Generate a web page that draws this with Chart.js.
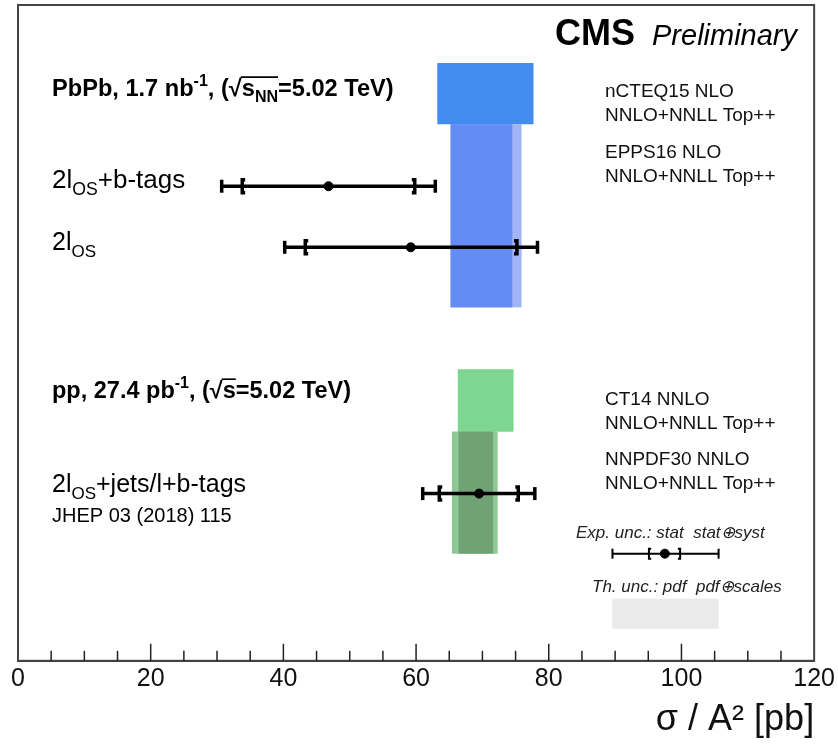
<!DOCTYPE html>
<html>
<head>
<meta charset="utf-8">
<script src="https://cdn.jsdelivr.net/npm/chart.js@4.4.1/dist/chart.umd.min.js"></script>
<style>
  html, body { margin: 0; padding: 0; background: #ffffff; }
</style>
</head>
<body>
<canvas id="xsec-chart" width="838" height="744"></canvas>
<script>
const FONT = "'Liberation Sans', Arial, Helvetica, sans-serif";

// x axis
const xTicks = [0, 20, 40, 60, 80, 100, 120];
const xTitle = "σ / A² [pb]";

// theory bands: inner = pdf, outer = pdf+scales (y in row units)
const theoryNames = ["nCTEQ15 NLO", "EPPS16 NLO", "CT14 NNLO", "NNPDF30 NNLO"];
const theoryCalc = "NNLO+NNLL Top++";
const pdfLow = [63.3, 65.2, 66.3, 66.4];
const pdfHigh = [77.6, 74.5, 74.6, 71.6];
const totLow = [63.2, 65.2, 66.3, 65.4];
const totHigh = [77.7, 75.9, 74.7, 72.3];
const bandTop = [11.94, 10.72, 5.82, 4.58];
const bandBottom = [10.72, 7.06, 4.58, 2.14];

// measurements
const measNames = ["2l_{OS}+b-tags", "2l_{OS}", "2l_{OS}+jets/l+b-tags"];
const measValue = [46.8, 59.2, 69.5];
const statLow = [33.8, 43.3, 63.5];
const statHigh = [59.8, 75.2, 75.4];
const totalLow = [30.7, 40.2, 61.0];
const totalHigh = [62.9, 78.3, 77.9];
const measRow = [9.48, 8.26, 3.34];

// legend samples: [totalLow, statLow, value, statHigh, totalHigh]
const expSample = [89.6, 95.1, 97.5, 99.8, 105.6];
const expSampleRow = 2.14;
const thSample = [89.6, 105.6];
const thSampleRows = [1.24, 0.64];

const pdfColors = ["rgb(66,140,240)", "rgb(100,140,245)", "rgb(125,215,145)", "rgb(112,162,118)"];
const totColors = ["rgb(66,140,240)", "rgb(160,180,246)", "rgb(125,215,145)", "rgb(142,200,148)"];

// tiny ROOT-latex-ish parser: _{..} ^{..} #sqrt{..}
const parseLatex = (str) => {
  const parts = [];
  const stack = [];
  let buf = "";
  const mode = () => ({
    sub: stack.includes("_"),
    sup: stack.includes("^"),
    over: stack.includes("#"),
  });
  const flush = () => {
    if (buf) {
      parts.push({ t: buf, ...mode() });
      buf = "";
    }
  };
  for (let i = 0; i < str.length; i++) {
    if (str.startsWith("_{", i) || str.startsWith("^{", i)) {
      flush();
      stack.push(str[i]);
      i++;
    } else if (str.startsWith("#sqrt{", i)) {
      flush();
      parts.push({ t: "√", ...mode(), root: true });
      stack.push("#");
      i += 5;
    } else if (str[i] === "}") {
      flush();
      stack.pop();
    } else {
      buf += str[i];
    }
  }
  flush();
  return parts;
};

const drawRich = (ctx, text, x, y, size, style) => {
  let cx = x;
  let overFrom = null;
  let overTo = null;
  parseLatex(text).forEach((p) => {
    const s = p.sub || p.sup ? size * 0.68 : size;
    ctx.font = `${style} ${s}px ${FONT}`;
    const dy = p.sub ? size * 0.27 : p.sup ? -size * 0.42 : 0;
    ctx.fillText(p.t, cx, y + dy);
    const w = ctx.measureText(p.t).width;
    if (p.over) {
      if (overFrom === null) overFrom = cx;
      overTo = cx + w;
    }
    cx += w;
  });
  if (overFrom !== null) {
    ctx.beginPath();
    ctx.lineWidth = size * 0.07;
    ctx.moveTo(overFrom - 1, y - size * 0.8);
    ctx.lineTo(overTo, y - size * 0.8);
    ctx.stroke();
  }
};

const line = (ctx, x1, y1, x2, y2) => {
  ctx.beginPath();
  ctx.moveTo(x1, y1);
  ctx.lineTo(x2, y2);
  ctx.stroke();
};

const drawErrorBar = (ctx, xs, py, tLo, sLo, sHi, tHi, w, cap) => {
  const a = xs.getPixelForValue(tLo);
  const b = xs.getPixelForValue(sLo);
  const c = xs.getPixelForValue(sHi);
  const d = xs.getPixelForValue(tHi);
  ctx.strokeStyle = "#000";
  ctx.lineWidth = w;
  line(ctx, a, py, d, py);
  // outer end caps
  line(ctx, a, py - cap, a, py + cap);
  line(ctx, d, py - cap, d, py + cap);
  // stat brackets [ ]
  const s = cap * 0.45;
  ctx.beginPath();
  ctx.moveTo(b + s, py - cap);
  ctx.lineTo(b, py - cap);
  ctx.lineTo(b, py + cap);
  ctx.lineTo(b + s, py + cap);
  ctx.moveTo(c - s, py - cap);
  ctx.lineTo(c, py - cap);
  ctx.lineTo(c, py + cap);
  ctx.lineTo(c - s, py + cap);
  ctx.stroke();
};

const bandsPlugin = {
  id: "bands",
  beforeDatasetsDraw(chart) {
    const { ctx } = chart;
    const xs = chart.scales.x;
    const ys = chart.scales.y;
    ctx.save();
    theoryNames.forEach((name, i) => {
      const top = ys.getPixelForValue(bandTop[i]);
      const bot = ys.getPixelForValue(bandBottom[i]);
      ctx.fillStyle = totColors[i];
      const a = xs.getPixelForValue(totLow[i]);
      ctx.fillRect(a, top, xs.getPixelForValue(totHigh[i]) - a, bot - top);
      ctx.fillStyle = pdfColors[i];
      const b = xs.getPixelForValue(pdfLow[i]);
      ctx.fillRect(b, top, xs.getPixelForValue(pdfHigh[i]) - b, bot - top);
    });
    // theory legend box
    const t0 = ys.getPixelForValue(thSampleRows[0]);
    const t1 = ys.getPixelForValue(thSampleRows[1]);
    const l0 = xs.getPixelForValue(thSample[0]);
    ctx.fillStyle = "rgb(234,234,234)";
    ctx.fillRect(l0, t0, xs.getPixelForValue(thSample[1]) - l0, t1 - t0);

    measValue.forEach((v, i) => {
      drawErrorBar(ctx, xs, ys.getPixelForValue(measRow[i]),
        totalLow[i], statLow[i], statHigh[i], totalHigh[i], 3.5, 6.5);
    });
    drawErrorBar(ctx, xs, ys.getPixelForValue(expSampleRow),
      expSample[0], expSample[1], expSample[3], expSample[4], 2, 5);
    ctx.restore();
  },
  afterDraw(chart) {
    const { ctx, chartArea } = chart;
    const xs = chart.scales.x;
    const L = chartArea.left;
    const T = chartArea.top;
    ctx.save();
    // frame
    ctx.strokeStyle = "#444";
    ctx.lineWidth = 2;
    ctx.strokeRect(chartArea.left, chartArea.top, chartArea.right - chartArea.left, chartArea.bottom - chartArea.top);
    // inward ticks
    ctx.strokeStyle = "#222";
    ctx.lineWidth = 1.5;
    for (let v = xs.min + 5; v < xs.max; v += 5) {
      const px = xs.getPixelForValue(v);
      const len = v % 20 === 0 ? 17 : 10;
      line(ctx, px, chartArea.bottom, px, chartArea.bottom - len);
    }

    ctx.fillStyle = "#000";
    ctx.strokeStyle = "#000";
    ctx.textBaseline = "alphabetic";
    ctx.textAlign = "left";
    // CMS label
    drawRich(ctx, "CMS", L + 537, T + 40, 36, "bold");
    drawRich(ctx, "Preliminary", L + 634, T + 40, 29, "italic");

    // headers
    drawRich(ctx, "PbPb, 1.7 nb^{-1}, (#sqrt{s_{NN}}=5.02 TeV)", L + 34, T + 91, 23.6, "bold");
    drawRich(ctx, "pp, 27.4 pb^{-1}, (#sqrt{s}=5.02 TeV)", L + 34, T + 393, 23.5, "bold");

    // measurement labels
    const labelY = [183, 245, 487];
    const labelSize = [26, 25, 25];
    measNames.forEach((n, i) => {
      drawRich(ctx, n, L + 34, T + labelY[i], labelSize[i], "normal");
    });
    drawRich(ctx, "JHEP 03 (2018) 115", L + 34, T + 517, 20, "normal");

    // theory labels
    const theoryY = [92, 153, 400, 460];
    ctx.fillStyle = "#111";
    theoryNames.forEach((n, i) => {
      drawRich(ctx, n, L + 587, T + theoryY[i], 19, "normal");
      drawRich(ctx, theoryCalc, L + 587, T + theoryY[i] + 24, 19, "normal");
    });

    // legend captions
    ctx.fillStyle = "#222";
    drawRich(ctx, "Exp. unc.: stat  stat⊕syst", L + 558, T + 533, 17, "italic");
    drawRich(ctx, "Th. unc.: pdf  pdf⊕scales", L + 574, T + 587, 17, "italic");
    ctx.restore();
  },
};

const points = measValue.map((v, i) => ({ x: v, y: measRow[i] }));
points.push({ x: expSample[2], y: expSampleRow });

const xsecChart = new Chart(document.getElementById("xsec-chart"), {
  type: "scatter",
  data: {
    datasets: [
      {
        label: "Measurements",
        data: points,
        backgroundColor: "#000",
        borderColor: "#000",
        pointRadius: 4.5,
        pointHoverRadius: 4.5,
      },
    ],
  },
  options: {
    responsive: false,
    animation: false,
    devicePixelRatio: 1,
    layout: {
      autoPadding: false,
      padding: { left: 18, right: 20, top: 5, bottom: 0 },
    },
    plugins: {
      legend: { display: false },
      tooltip: { enabled: false },
    },
    scales: {
      x: {
        type: "linear",
        min: 0,
        max: 120,
        afterBuildTicks: (scale) => {
          scale.ticks = xTicks.map((v) => ({ value: v }));
        },
        ticks: {
          color: "#111",
          font: { family: FONT, size: 25 },
          padding: 3,
          maxRotation: 0,
        },
        grid: { display: false, drawTicks: false },
        border: { display: true, color: "#333", width: 2 },
        title: {
          display: true,
          text: xTitle,
          align: "end",
          color: "#111",
          font: { family: FONT, size: 36 },
          padding: { top: 2, bottom: 2 },
        },
      },
      y: {
        type: "linear",
        display: false,
        min: 0,
        max: 13.1,
      },
    },
  },
  plugins: [bandsPlugin],
});
</script>
</body>
</html>
